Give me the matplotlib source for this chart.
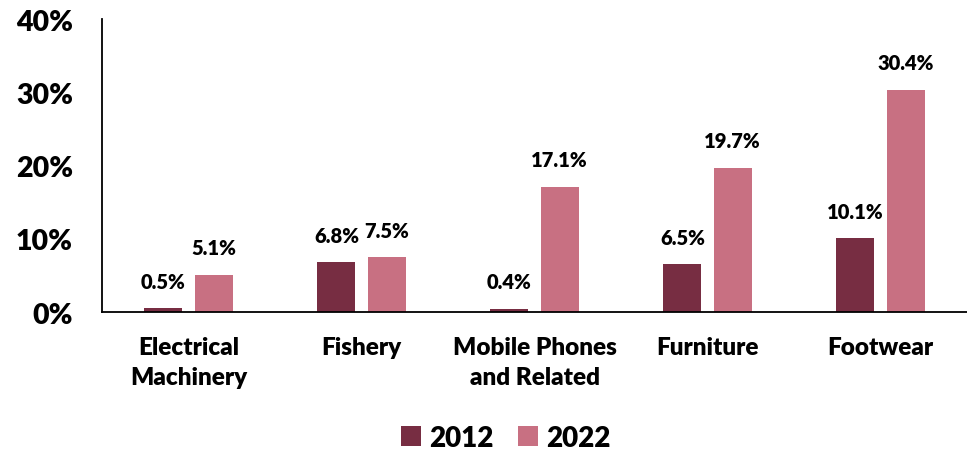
import matplotlib.pyplot as plt
import numpy as np

# Share of imports by product group, 2012 vs 2022 (percent)
categories = ["Electrical\nMachinery", "Fishery", "Mobile Phones\nand Related", "Furniture", "Footwear"]
share_2012 = [0.5, 6.8, 0.4, 6.5, 10.1]
share_2022 = [5.1, 7.5, 17.1, 19.7, 30.4]
yticks = [0, 10, 20, 30, 40]

plt.rcParams['font.family'] = ['Lato', 'DejaVu Sans']
WEIGHT = 'heavy'

fig = plt.figure(figsize=(9.67, 4.52), dpi=100)
ax = fig.add_axes([0.1055, 0.3075, 0.8945, 0.6475])

x = np.arange(len(categories))
w = 0.22
off = 0.145
b1 = ax.bar(x - off, share_2012, w, color='#772D42', label='2012')
b2 = ax.bar(x + off, share_2022, w, color='#C87082', label='2022')

for bars, vals in ((b1, share_2012), (b2, share_2022)):
    for bar, v in zip(bars, vals):
        ax.annotate(f'{v:.1f}%', xy=(bar.get_x() + bar.get_width() / 2, v),
                    xytext=(0, 19.5), textcoords='offset points',
                    ha='center', va='center', fontsize=14.5, fontweight=WEIGHT)

ax.set_xlim(-0.5, len(categories) - 0.5)
ax.set_ylim(0, 40)
ax.set_yticks(yticks)
ax.set_yticklabels([f'{t}%' for t in yticks], fontsize=20.5, fontweight=WEIGHT)
ax.set_xticks(x)
ax.set_xticklabels(categories, fontsize=17.5, fontweight=WEIGHT, linespacing=1.45)
ax.tick_params(axis='both', length=0)
ax.tick_params(axis='y', pad=21)
ax.tick_params(axis='x', pad=17)

ax.spines['top'].set_visible(False)
ax.spines['right'].set_visible(False)
ax.spines['left'].set_linewidth(1.3)
ax.spines['bottom'].set_linewidth(1.3)

fig.legend(handles=[b1, b2], loc='lower center', bbox_to_anchor=(0.523, -0.055), ncol=2,
           frameon=False, prop={'size': 20, 'weight': WEIGHT},
           handlelength=0.7, handleheight=0.7, handletextpad=0.3, columnspacing=0.9)

fig.savefig('out.png', dpi=100, facecolor='white')
